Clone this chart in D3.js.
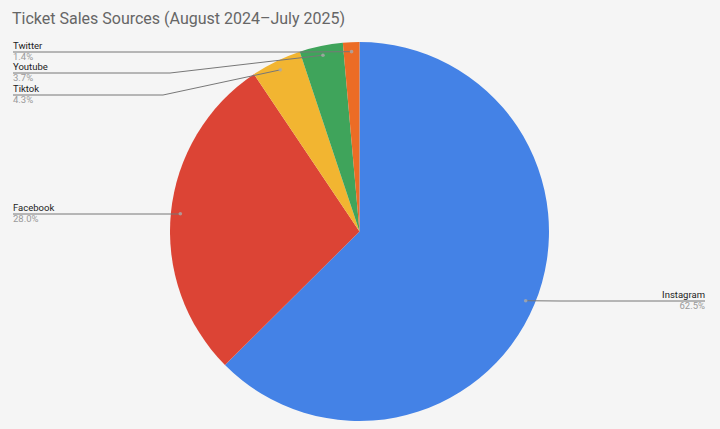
<!DOCTYPE html>
<html>
<head>
<meta charset="utf-8">
<script src="https://cdn.jsdelivr.net/npm/d3@7"></script>
<style>
  body { margin: 0; background: #f5f5f5; }
  svg { display: block; font-family: Roboto, Arial, sans-serif; }
</style>
</head>
<body>
<div id="chart"></div>
<script>
// chart data
const CATEGORIES = ["Instagram", "Facebook", "Tiktok", "Youtube", "Twitter"];
const SHARES = [62.5, 28.0, 4.3, 3.7, 1.4];
const COLORS = ["#4482e6", "#dc4435", "#f2b531", "#3fa45b", "#ec6c25"];
const TITLE = "Ticket Sales Sources (August 2024\u2013July 2025)";

// frame
const FRAME_WIDTH = 720;
const FRAME_HEIGHT = 429;
const CX = 359.5, CY = 231.5, RADIUS = 189.5;

// where each label sits (y of the underline, side, x of the elbow)
const LABEL_POS = {
  Twitter:   {y: 52,  side: "left",  knee: 300},
  Youtube:   {y: 73,  side: "left",  knee: 170},
  Tiktok:    {y: 95,  side: "left",  knee: 163},
  Facebook:  {y: 214, side: "left",  knee: 179},
  Instagram: {y: 301, side: "right", knee: 560}
};

const data = CATEGORIES.map((c, i) => ({name: c, value: SHARES[i], color: COLORS[i]}));

const FRAME1 = d3.select("#chart")
  .append("svg")
    .attr("width", FRAME_WIDTH)
    .attr("height", FRAME_HEIGHT);

FRAME1.append("rect")
  .attr("width", FRAME_WIDTH)
  .attr("height", FRAME_HEIGHT)
  .attr("fill", "#f5f5f5");

// title
FRAME1.append("text")
  .attr("x", 12)
  .attr("y", 24)
  .attr("font-size", "16px")
  .attr("fill", "#666")
  .text(TITLE);

const pie = d3.pie().sort(null).value(d => d.value);
const arcs = pie(data);
const arc = d3.arc().innerRadius(0).outerRadius(RADIUS);
const dotArc = d3.arc().innerRadius(RADIUS * 0.95).outerRadius(RADIUS * 0.95);

const g = FRAME1.append("g")
  .attr("transform", "translate(" + CX + "," + CY + ")");

g.selectAll("path")
  .data(arcs)
  .enter()
  .append("path")
    .attr("d", arc)
    .attr("fill", d => d.data.color);

// leader lines + labels
const LEFT_X = 13, RIGHT_X = 705;

arcs.forEach(a => {
  const pos = LABEL_POS[a.data.name];
  const c = dotArc.centroid(a);
  const px = c[0] + CX, py = c[1] + CY;
  const endX = pos.side === "left" ? LEFT_X : RIGHT_X;
  let pts;
  if (pos.side === "left") {
    pts = [[endX, pos.y], [Math.min(pos.knee, px), pos.y], [px, py]];
  } else {
    pts = [[endX, pos.y], [Math.max(pos.knee, px), pos.y], [px, py]];
  }
  FRAME1.append("path")
    .attr("d", d3.line()(pts))
    .attr("fill", "none")
    .attr("stroke", "#777")
    .attr("stroke-width", 1);

  FRAME1.append("circle")
    .attr("cx", px)
    .attr("cy", py)
    .attr("r", 1.8)
    .attr("fill", "#aaa")
    .attr("opacity", 0.8);

  const anchor = pos.side === "left" ? "start" : "end";
  FRAME1.append("text")
    .attr("x", endX)
    .attr("y", pos.y - 3)
    .attr("text-anchor", anchor)
    .attr("font-size", "9.5px")
    .attr("fill", "#222")
    .text(a.data.name);

  FRAME1.append("text")
    .attr("x", endX)
    .attr("y", pos.y + 8)
    .attr("text-anchor", anchor)
    .attr("font-size", "9.5px")
    .attr("fill", "#9a9a9a")
    .text(d3.format(".1f")(a.data.value) + "%");
});
</script>
</body>
</html>
